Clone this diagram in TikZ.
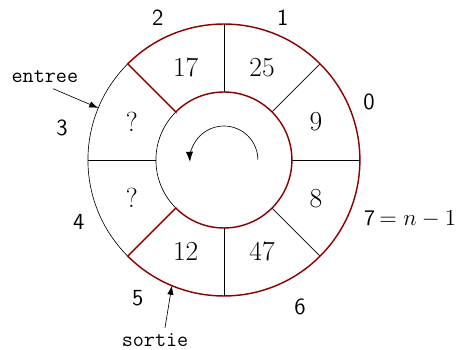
\documentclass[tikz,border=0pt]{standalone}
\usepackage{amsmath}
\usetikzlibrary{arrows.meta,calc}
\definecolor{bufred}{RGB}{140,0,0}

\begin{document}
\begin{tikzpicture}[
    every node/.style={font=\fontsize{12}{14}\selectfont},
    cellval/.style={font=\fontsize{16.5}{19}\selectfont},
    idxlabel/.style={font=\fontsize{14.5}{16}\selectfont\sffamily},
    ioname/.style={font=\fontsize{13.5}{15}\selectfont\ttfamily},
    occupied/.style={draw=bufred, line width=0.9pt},
    thinline/.style={draw=black, line width=0.4pt}
  ]
  \useasboundingbox (-4.94,-4.19) rectangle (5.12,3.53);

  % cases libres (3 et 4)
  \draw[thinline] (135:3) arc (135:225:3);
  \draw[thinline] (135:1.5) arc (135:225:1.5);
  \draw[thinline] (180:1.5) -- (180:3);

  % separations des cases occupees
  \foreach \a in {-90,-45,0,45,90}
    \draw[thinline] (\a:1.5) -- (\a:3);

  % zone occupee, de 5 a 2
  \draw[occupied] (135:1.5) -- (135:3) arc (135:-135:3) -- (-135:1.5) arc (-135:135:1.5) -- cycle;

  % contenu des cases
  \foreach \v/\i in {9/0,25/1,17/2,?/3,?/4,12/5,47/6,8/7}
    \node[cellval] (v\i) at ({22.5+45*\i}:2.2) {$\v$};

  % indices
  \foreach \i/\x/\y in {0/3.20/1.28, 1/1.30/3.15, 2/-1.46/3.15, 3/-3.57/0.71,
                        4/-3.20/-1.37, 5/-1.90/-3.04, 6/1.68/-3.24}
    \node[idxlabel] (i\i) at (\x,\y) {\i};
  \node[anchor=west, inner sep=1pt, font=\fontsize{14}{16}\selectfont] (i7) at (3.05,-1.30) {$\textsf{7}\mskip-1.5mu= n-1$};

  % sens de rotation
  \draw[-{Latex[length=2.2mm,width=1.6mm]}] (0:0.75) arc (0:183:0.75);

  % entree et sortie
  \coordinate (inpt) at (157.5:3);
  \coordinate (outpt) at (247.5:3);
  \node[ioname] (entree) at (-3.95,1.85) {entree};
  \node[ioname] (sortie) at (-1.52,-3.97) {sortie};
  \draw[-{Latex[length=2mm,width=1.4mm]}] ($(entree.south)+(0.18,-0.02)$) -- (inpt);
  \draw[-{Latex[length=2mm,width=1.4mm]}] ($(sortie.north)+(0.22,0)$) -- (outpt);
\end{tikzpicture}
\end{document}
